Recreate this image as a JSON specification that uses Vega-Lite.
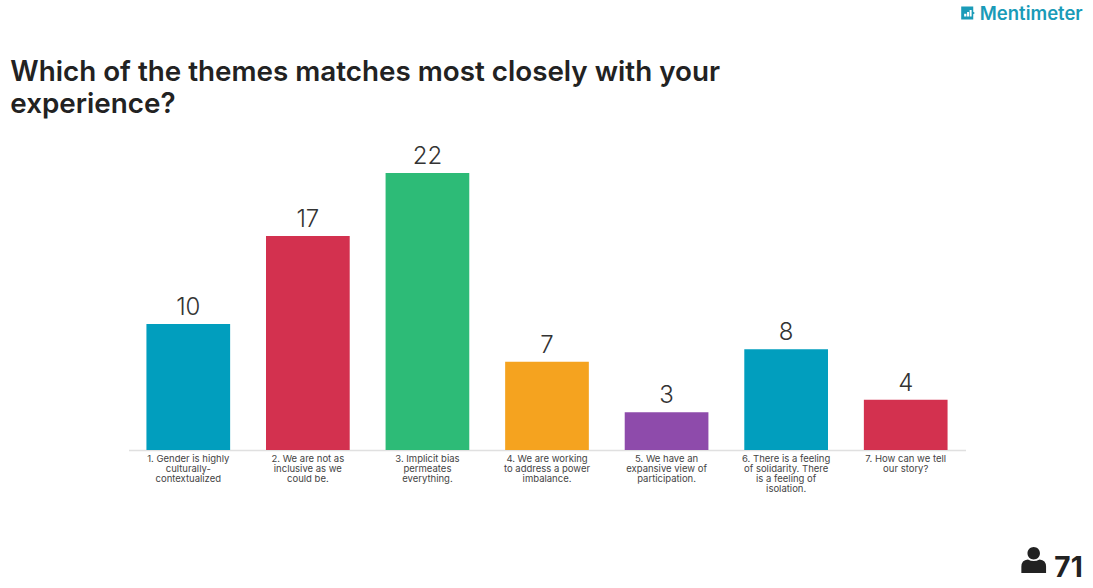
{"$schema":"https://vega.github.io/schema/vega-lite/v6.json","width":837,"height":450,"autosize":"none","padding":{"left":128.5,"top":0,"right":128,"bottom":138},"background":"white","config":{"view":{"stroke":null},"font":"Inter"},
"datasets":{"notes":[
{"theme":"1. Gender is highly|culturally-|contextualized","level":29.31,"note":"Which of the themes matches most closely with your|experience?","kind":"title"},
{"theme":"7. How can we tell|our story?","level":34.15,"note":"Mentimeter","kind":"brand"},
{"theme":"7. How can we tell|our story?","level":-10.09,"note":"71","kind":"count"}]},
"data":{"values":[
{"theme":"1. Gender is highly|culturally-|contextualized","votes":10},
{"theme":"2. We are not as|inclusive as we|could be.","votes":17},
{"theme":"3. Implicit bias|permeates|everything.","votes":22},
{"theme":"4. We are working|to address a power|imbalance.","votes":7},
{"theme":"5. We have an|expansive view of|participation.","votes":3},
{"theme":"6. There is a feeling|of solidarity. There|is a feeling of|isolation.","votes":8},
{"theme":"7. How can we tell|our story?","votes":4}]},
"layer":[
{"mark":{"type":"bar"},"encoding":{"x":{"field":"theme","type":"nominal","sort":null,"scale":{"paddingInner":0.3,"paddingOuter":0.15},"axis":{"title":null,"labelAngle":0,"ticks":false,"domainColor":"#e0e0e0","domainWidth":1.5,"labelPadding":3,"labelFontSize":9.5,"labelColor":"#444","labelLineHeight":10,"labelBaseline":"top","labelExpr":"split(datum.label,'|')","labelLimit":0}},"y":{"field":"votes","type":"quantitative","scale":{"domain":[0,35.74],"nice":false},"axis":null},"color":{"field":"theme","type":"nominal","sort":null,"legend":null,"scale":{"range":["#019ebe","#d3314f","#2dbb77","#f5a31f","#8e4bab","#019ebe","#d3314f"]}}}},
{"mark":{"type":"text","baseline":"bottom","dy":-4,"fontSize":24,"fontWeight":300,"color":"#333"},"encoding":{"x":{"field":"theme","type":"nominal","sort":null},"y":{"field":"votes","type":"quantitative"},"text":{"field":"votes","type":"quantitative"}}},
{"data":{"name":"notes"},"transform":[{"filter":"datum.kind==='title'"}],"mark":{"type":"text","align":"left","baseline":"alphabetic","dx":-178,"fontSize":27.8,"fontWeight":600,"color":"#222","lineHeight":32,"lineBreak":"|"},"encoding":{"x":{"field":"theme","type":"nominal","sort":null},"y":{"field":"level","type":"quantitative"},"text":{"field":"note"}}},
{"data":{"name":"notes"},"transform":[{"filter":"datum.kind==='brand'"}],"mark":{"type":"text","align":"right","baseline":"alphabetic","dx":177,"fontSize":18.5,"fontWeight":600,"color":"#1a9bb8"},"encoding":{"x":{"field":"theme","type":"nominal","sort":null},"y":{"field":"level","type":"quantitative"},"text":{"field":"note"}}},
{"data":{"name":"notes"},"transform":[{"filter":"datum.kind==='brand'"}],"mark":{"type":"point","filled":true,"size":169,"opacity":1,"color":"#1a9bb8","shape":"M-1,-1 L0.85,-1 L0.85,-0.2 L1.1,0 L0.85,0.2 L0.85,1 L-1,1 Z M-0.55,0.55 L-0.2,0.55 L-0.2,0.1 L-0.55,0.1 Z M-0.1,0.55 L0.2,0.55 L0.2,-0.15 L-0.1,-0.15 Z M0.3,0.55 L0.6,0.55 L0.6,-0.45 L0.3,-0.45 Z","xOffset":62,"yOffset":-7},"encoding":{"x":{"field":"theme","type":"nominal","sort":null},"y":{"field":"level","type":"quantitative"}}},
{"data":{"name":"notes"},"transform":[{"filter":"datum.kind==='count'"}],"mark":{"type":"text","align":"right","baseline":"alphabetic","dx":177,"fontSize":28,"fontWeight":700,"color":"#222"},"encoding":{"x":{"field":"theme","type":"nominal","sort":null},"y":{"field":"level","type":"quantitative"},"text":{"field":"note"}}},
{"data":{"name":"notes"},"transform":[{"filter":"datum.kind==='count'"}],"mark":{"type":"point","filled":true,"size":676,"opacity":1,"color":"#222","shape":"M-0.48,-0.52 A0.48,0.48 0 1 1 0.48,-0.52 A0.48,0.48 0 1 1 -0.48,-0.52 Z M-0.95,1 L-0.95,0.5 Q-0.95,0 -0.45,-0.05 Q0,0.2 0.45,-0.05 Q0.95,0 0.95,0.5 L0.95,1 Z","xOffset":128,"yOffset":-17},"encoding":{"x":{"field":"theme","type":"nominal","sort":null},"y":{"field":"level","type":"quantitative"}}}
]}
